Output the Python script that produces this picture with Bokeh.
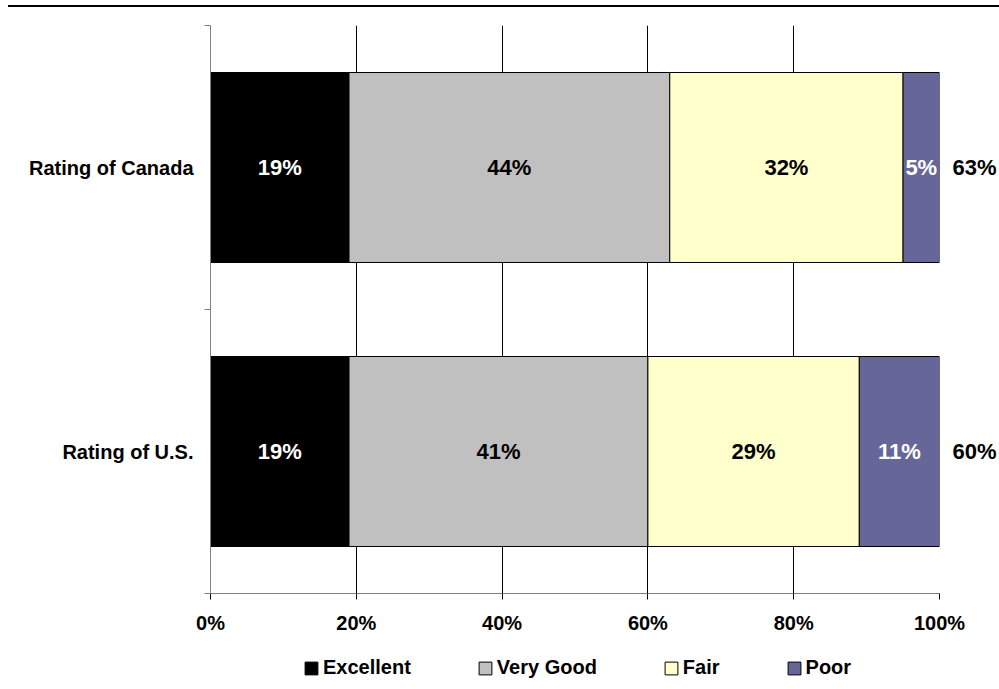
from bokeh.plotting import figure
from bokeh.models import (ColumnDataSource, FixedTicker, PrintfTickFormatter, Range1d,
                          Legend, LegendItem, Div, LinearAxis)
from bokeh.layouts import column
from bokeh.embed import file_html
from bokeh.resources import INLINE
from bokeh.core.properties import value

# Survey results: share of respondents per rating (percent)
categories = ["Rating of U.S.", "Rating of Canada"]
ratings = ["Excellent", "Very Good", "Fair", "Poor"]
excellent = [19, 19]
very_good = [41, 44]
fair = [29, 32]
poor = [11, 5]
x_ticks = [0, 20, 40, 60, 80, 100]

colors = ["#000000", "#C0C0C0", "#FFFFCC", "#666699"]
label_colors = ["white", "black", "black", "white"]
FONT = "Liberation Sans"

series = [excellent, very_good, fair, poor]
pos = [i + 0.5 for i in range(len(categories))]

p = figure(width=999, height=633, x_range=Range1d(0, 100), y_range=Range1d(0, 2),
           output_backend="svg", toolbar_location=None,
           min_border_left=210, min_border_right=59, min_border_top=18, min_border_bottom=47)
p.outline_line_color = None

# stacked horizontal bars with value labels
left = [0] * len(categories)
lx, ly, lt, lc = [], [], [], []
for vals, name, col, tcol in zip(series, ratings, colors, label_colors):
    right = [a + b for a, b in zip(left, vals)]
    p.hbar(y=pos, left=left, right=right, height=0.669, fill_color=col,
           line_color="black", line_width=1)
    for a, b, y, v in zip(left, right, pos, vals):
        lx.append((a + b) / 2)
        ly.append(y)
        lt.append(f"{v}%")
        lc.append(tcol)
    left = right

labels = ColumnDataSource(dict(x=lx, y=ly, text=lt, color=lc))
p.text(x="x", y="y", text="text", text_color="color", source=labels,
       text_font=value(FONT), text_font_style="bold", text_font_size="22px",
       text_align="center", text_baseline="middle")

# axes
p.xaxis.ticker = FixedTicker(ticks=x_ticks)
p.xaxis.formatter = PrintfTickFormatter(format="%d%%")
p.xaxis.axis_line_color = "#808080"
p.xaxis.major_tick_line_color = "black"
p.xaxis.major_tick_out = 6
p.xaxis.major_tick_in = 0
p.xaxis.minor_tick_line_color = None
p.xaxis.major_label_standoff = 12
p.xaxis.major_label_text_font = FONT
p.xaxis.major_label_text_font_style = "bold"
p.xaxis.major_label_text_font_size = "20px"
p.xaxis.major_label_text_color = "black"

p.yaxis.ticker = FixedTicker(ticks=pos, minor_ticks=[0, 1, 2])
p.yaxis.major_label_overrides = {y: c for y, c in zip(pos, categories)}
p.yaxis.axis_line_color = "#808080"
p.yaxis.major_tick_out = 0
p.yaxis.major_tick_in = 0
p.yaxis.minor_tick_out = 6
p.yaxis.minor_tick_in = 0
p.yaxis.minor_tick_line_color = "#808080"
p.yaxis.major_label_standoff = 11
p.yaxis.major_label_text_font = FONT
p.yaxis.major_label_text_font_style = "bold"
p.yaxis.major_label_text_font_size = "20px"
p.yaxis.major_label_text_color = "black"

# top-two-box totals (Excellent + Very Good) to the right of each bar
totals = [a + b for a, b in zip(excellent, very_good)]
totals_axis = LinearAxis(ticker=FixedTicker(ticks=pos),
                         major_label_overrides={y: f"{t}%" for y, t in zip(pos, totals)},
                         axis_line_color=None, major_tick_line_color=None,
                         minor_tick_line_color=None, major_tick_out=0, major_tick_in=0,
                         minor_tick_out=0, minor_tick_in=0, major_label_standoff=13,
                         major_label_text_font=FONT, major_label_text_font_style="bold",
                         major_label_text_font_size="22px", major_label_text_color="black")
p.add_layout(totals_axis, "right")

p.xgrid.ticker = FixedTicker(ticks=x_ticks)
p.xgrid.grid_line_color = "black"
p.ygrid.grid_line_color = None

# legend strip beneath the chart; its swatch glyphs sit outside the visible range
lg = figure(width=999, height=49, x_range=Range1d(0, 1), y_range=Range1d(0, 1),
            output_backend="svg", toolbar_location=None, min_border=0,
            x_axis_location=None, y_axis_location=None)
lg.grid.visible = False
lg.outline_line_color = None
items = []
for name, col in zip(ratings, colors):
    r = lg.hbar(y=[-5], left=[0], right=[1], height=0.5, fill_color=col,
                line_color="black", line_width=1)
    items.append(LegendItem(label=name, renderers=[r]))
legend = Legend(items=items, orientation="horizontal", location=(93, 10),
                label_text_font=FONT, label_text_font_style="bold",
                label_text_font_size="20px", label_text_color="black",
                glyph_width=16, glyph_height=16, label_standoff=4, spacing=66,
                padding=0, margin=0, border_line_color=None,
                background_fill_alpha=0)
lg.add_layout(legend, "center")

top_rule = Div(width=991, height=7, margin=(0, 0, 0, 8),
               styles={"border-bottom": "2px solid black", "box-sizing": "border-box"})

layout = column(top_rule, p, lg, spacing=0)
open("out.html", "w").write(file_html(layout, INLINE))
